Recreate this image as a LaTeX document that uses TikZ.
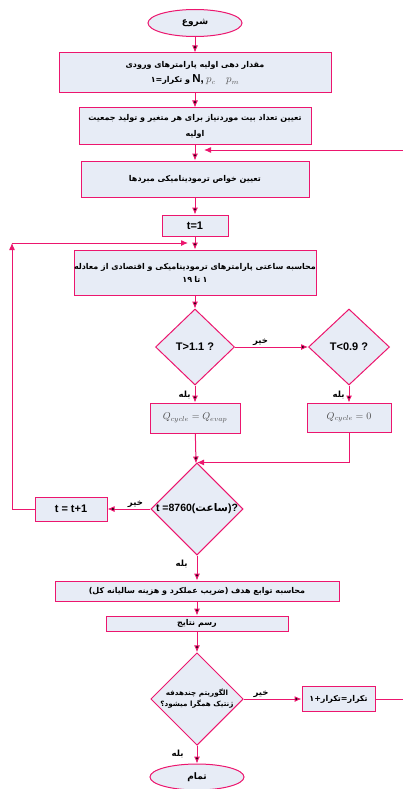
\documentclass[tikz,border=0pt]{standalone}
\usepackage{fontspec}
\setmainfont{Liberation Sans}
\newfontfamily\farsi[Script=Arabic]{DejaVu Sans}
\newfontfamily\fadigits{DejaVu Sans}
\TeXXeTstate=1
\usetikzlibrary{shapes.geometric,arrows.meta}
\definecolor{edgepink}{RGB}{236,22,110}
\definecolor{boxfill}{RGB}{231,236,246}
\newcommand{\fatext}[1]{{\farsi\beginR #1\endR}}

\begin{document}
\begin{tikzpicture}
		[x=1pt, y=-1pt,
		block/.style ={rectangle, draw=edgepink, line width=1pt, fill=boxfill, inner sep=0pt, align=center, font=\fontsize{8}{13}\selectfont\bfseries},
		term/.style ={block, ellipse, font=\fontsize{9}{11}\selectfont\bfseries},
		test/.style ={block, diamond, aspect=1},
		line/.style ={draw=edgepink, line width=1pt, -{Latex[length=7pt,width=6pt]}},
		plain/.style ={draw=edgepink, line width=1pt},
		lbl/.style ={font=\fontsize{8.5}{10}\selectfont\bfseries, inner sep=1pt},
		]
		\useasboundingbox (0,0) rectangle (403,789);

		\draw (195,23) node[term, minimum width=94pt, minimum height=27pt] (S) {\fatext{شروع}};
		\draw (195,73) node[block, minimum width=272pt, minimum height=40pt] (B1) {\fatext{مقدار دهی اولیه پارامترهای ورودی}\\[2pt]
			\fatext{و تکرار=۱}\ {\fontsize{11.5}{11}\selectfont N,}\ {\mdseries\fontsize{10.5}{11}\selectfont\color{black!65}$p_c$\quad$p_m$}};
		\draw (195,126) node[block, minimum width=232pt, minimum height=36pt] (B2) {\fatext{تعیین تعداد بیت موردنیاز برای هر متغیر و تولید جمعیت}\\[3pt] \fatext{اولیه}};
		\draw (195,179) node[block, minimum width=228pt, minimum height=36pt] (B3) {\fatext{تعیین خواص ترمودینامیکی مبردها}};
		\draw (195,225.5) node[block, minimum width=66pt, minimum height=21pt, font=\fontsize{11}{11}\selectfont\bfseries] (B4) {t=1};
		\draw (195,272.5) node[block, minimum width=242pt, minimum height=45pt] (B5) {\fatext{محاسبه ساعتی پارامترهای ترمودینامیکی و اقتصادی از معادله}\\
			{\fadigits ۱۹}\ \fatext{تا}\ {\fadigits ۱}};
		\draw (195,347) node[test, minimum width=79pt, minimum height=76pt, font=\fontsize{11}{11}\selectfont\bfseries] (D1) {T>1.1 ?};
		\draw (349,347) node[test, minimum width=81pt, minimum height=76pt, font=\fontsize{11}{11}\selectfont\bfseries] (D2) {T<0.9 ?};
		\draw (195,418) node[block, minimum width=90pt, minimum height=30pt, font=\fontsize{10}{11}\selectfont] (Q1) {\color{black!70}$Q_{cycle}=Q_{evap}$};
		\draw (349,417.5) node[block, minimum width=84pt, minimum height=29pt, font=\fontsize{10}{11}\selectfont] (Q2) {\color{black!70}$Q_{cycle}=0$};
		\draw (197,509) node[test, minimum width=90pt, minimum height=90pt, font=\fontsize{10.5}{11}\selectfont\bfseries] (D3) {t =8760(\fatext{ساعت})?};
		\draw (71,509) node[block, minimum width=72pt, minimum height=24pt, font=\fontsize{11}{11}\selectfont\bfseries] (T2) {t = t+1};
		\draw (197,591) node[block, minimum width=284pt, minimum height=20pt] (B6) {\fatext{محاسبه توابع هدف (ضریب عملکرد و هزینه سالیانه کل)}};
		\draw (197,623.5) node[block, minimum width=182pt, minimum height=15pt] (B7) {\fatext{رسم نتایج}};
		\draw (197,699) node[test, minimum width=85pt, minimum height=87pt, font=\fontsize{7.2}{11}\selectfont\bfseries] (D4) {\fatext{الگوریتم چندهدفه}\\ \fatext{ژنتیک همگرا میشود؟}};
		\draw (338.5,699) node[block, minimum width=73pt, minimum height=25pt] (B8) {\fatext{تکرار=تکرار+۱}};
		\draw (197,777) node[term, minimum width=94pt, minimum height=26pt] (E) {\fatext{تمام}};

		\coordinate (L1) at (12,509);
		\coordinate (L2) at (12,243);
		\coordinate (L3) at (188,243);
		\coordinate (R1) at (403,699);
		\coordinate (R2) at (403,150);
		\coordinate (R3) at (204,150);

		\path[line]
		(S) edge (B1)
		(B1) edge (B2)
		(B2) edge (B3)
		(B3) edge (B4)
		(B4) edge (B5)
		(B5) edge (D1)
		(D1) edge node[lbl, pos=.35, above] {\fatext{خیر}} (D2)
		(D1) edge node[lbl, pos=.55, left=3pt] {\fatext{بله}} (Q1)
		(D2) edge node[lbl, pos=.55, left=3pt] {\fatext{بله}} (Q2)
		(Q1) edge (D3)
		(D3) edge node[lbl, pos=.35, above] {\fatext{خیر}} (T2)
		(D3) edge node[lbl, pos=.35, left=8pt] {\fatext{بله}} (B6)
		(B6) edge (B7)
		(B7) edge (D4)
		(D4) edge node[lbl, pos=.3, above] {\fatext{خیر}} (B8)
		(D4) edge node[lbl, pos=.45, left=12pt] {\fatext{بله}} (E);

		\draw[line] (Q2.south) |- (D3.north);
		\draw[plain] (T2) -- (L1);
		\draw[line] (L1) -- (L2);
		\draw[line] (L2) -- (L3);
		\draw[plain] (B8) -- (R1);
		\draw[line] (R2) -- (R3);

	\end{tikzpicture}
\end{document}
